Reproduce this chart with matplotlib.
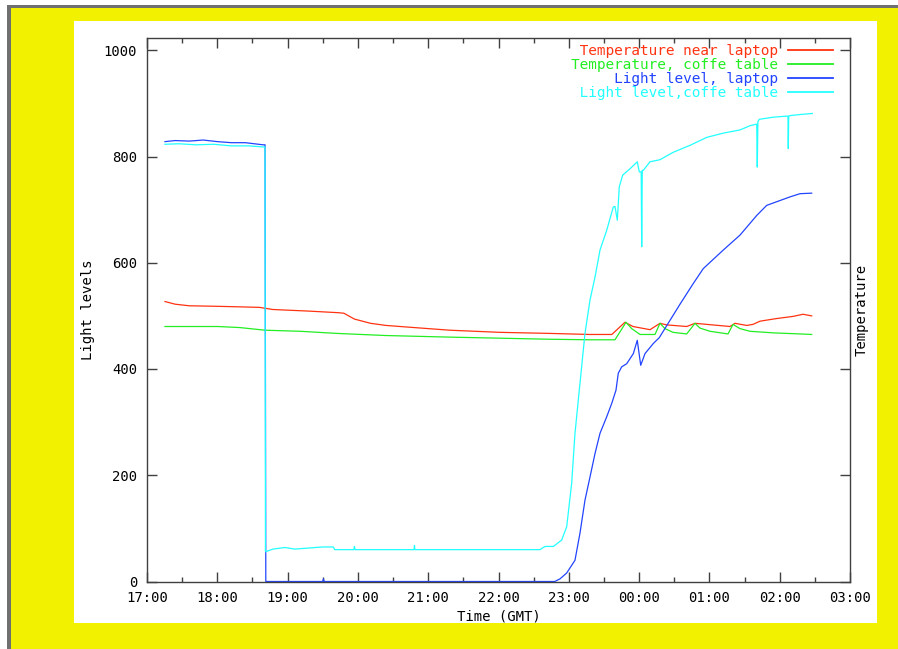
import matplotlib
matplotlib.use("Agg")
import matplotlib.pyplot as plt
from matplotlib.patches import Rectangle
from matplotlib.ticker import MultipleLocator

# ---------------- data (time in hours after 17:00 GMT) ----------------
x_tick_labels = ["17:00", "18:00", "19:00", "20:00", "21:00", "22:00",
                 "23:00", "00:00", "01:00", "02:00", "03:00"]
y_ticks = [0, 200, 400, 600, 800, 1000]

series_names = ["Temperature near laptop", "Temperature, coffe table",
                "Light level, laptop", "Light level,coffe table"]

t_temp_laptop = [0.256, 0.40, 0.60, 1.00, 1.32, 1.60, 1.79, 2.30, 2.72, 2.80,
                 2.95, 3.18, 3.40, 3.80, 4.31, 5.02, 5.73, 6.30, 6.612, 6.799,
                 6.913, 7.155, 7.297, 7.393, 7.677, 7.795, 7.962, 8.293, 8.364, 8.531,
                 8.620, 8.720, 8.957, 9.189, 9.331, 9.455]
v_temp_laptop = [527, 522, 519, 518, 517, 516, 512, 509, 506, 505,
                 494, 486, 482, 478, 473, 469, 467, 465, 465, 488,
                 480, 474, 486, 483, 480, 486, 484, 480, 486, 482,
                 484, 490, 495, 499, 503, 500]

t_temp_table = [0.256, 1.00, 1.32, 1.68, 2.18, 2.70, 3.40, 4.31, 5.02, 5.73,
                6.30, 6.657, 6.814, 6.895, 7.013, 7.226, 7.297, 7.368, 7.482, 7.677,
                7.795, 7.866, 8.009, 8.265, 8.336, 8.435, 8.578, 8.909, 9.289, 9.455]
v_temp_table = [480, 480, 478, 473, 471, 467, 463, 460, 458, 456,
                455, 455, 488, 476, 465, 465, 486, 476, 469, 466,
                486, 477, 471, 466, 484, 476, 471, 468, 466, 465]

t_light_laptop = [0.256, 0.40, 0.60, 0.80, 1.00, 1.20, 1.40, 1.65, 1.679, 1.69,
                  2.50, 2.51, 2.52, 5.80, 5.875, 5.970, 6.088, 6.159, 6.230, 6.302,
                  6.373, 6.444, 6.539, 6.610, 6.671, 6.704, 6.752, 6.824, 6.918, 6.974,
                  7.023, 7.084, 7.202, 7.287, 7.582, 7.771, 7.913, 8.198, 8.435, 8.673,
                  8.815, 9.147, 9.289, 9.455]
v_light_laptop = [828, 830, 829, 831, 828, 826, 826, 822, 822, 0,
                  0, 5, 0, 0, 5, 16, 40, 91, 153, 197,
                  241, 279, 310, 335, 360, 392, 404, 410, 429, 454,
                  407, 429, 448, 459, 522, 561, 589, 624, 652, 689,
                  708, 724, 730, 731]

t_light_table = [0.256, 0.45, 0.70, 0.95, 1.20, 1.45, 1.65, 1.679, 1.685, 1.792,
                 1.963, 2.10, 2.50, 2.65, 2.67, 2.944, 2.95, 2.96, 3.798, 3.805,
                 3.81, 5.59, 5.661, 5.780, 5.899, 5.970, 6.041, 6.088, 6.159, 6.230,
                 6.302, 6.373, 6.444, 6.539, 6.633, 6.657, 6.690, 6.718, 6.767, 6.871,
                 6.974, 7.003, 7.030, 7.037, 7.045, 7.060, 7.155, 7.297, 7.487, 7.724,
                 7.962, 8.198, 8.435, 8.578, 8.673, 8.681, 8.690, 8.710, 8.909, 9.100,
                 9.118, 9.122, 9.128, 9.147, 9.289, 9.464]
v_light_table = [823, 824, 822, 823, 820, 820, 818, 818, 56, 61,
                 64, 61, 65, 65, 60, 60, 66, 60, 60, 68,
                 60, 60, 66, 66, 78, 103, 185, 279, 373, 467,
                 530, 573, 624, 661, 705, 706, 680, 743, 765, 777,
                 790, 771, 771, 630, 774, 774, 790, 794, 808, 821,
                 836, 844, 850, 858, 861, 780, 866, 870, 874, 876,
                 876, 815, 876, 877, 879, 881]

colors = ["#ff3311", "#22ee22", "#2244ff", "#22ffff"]

# ---------------- figure ----------------
W, H = 898, 649
plt.rcParams["font.family"] = ["DejaVu Sans Mono", "DejaVu Sans"]
fig = plt.figure(figsize=(W / 100, H / 100), dpi=100)
fig.patch.set_facecolor("white")


def px_rect(x0, y0, x1, y1, color, z):
    fig.add_artist(Rectangle((x0 / W, 1 - y1 / H), (x1 - x0) / W, (y1 - y0) / H,
                             transform=fig.transFigure, facecolor=color,
                             edgecolor="none", zorder=z))


px_rect(7, 5, W, H, "#707070", -30)
px_rect(10.5, 8, W, H, "#f2f200", -20)
px_rect(74, 21, 877, 623, "white", -10)

ax = fig.add_axes([147 / W, 1 - 581.5 / H, 703 / W, 544 / H])
ax.set_facecolor("white")

series = [(t_temp_laptop, v_temp_laptop), (t_temp_table, v_temp_table),
          (t_light_laptop, v_light_laptop), (t_light_table, v_light_table)]
lines = []
for (t, v), c, name in zip(series, colors, series_names):
    ln, = ax.plot(t, v, color=c, lw=0.9, label=name.rjust(24))
    lines.append(ln)

ax.set_xlim(0, 10)
ax.set_ylim(0, 1024)
ax.set_xticks(range(len(x_tick_labels)))
ax.set_xticklabels(x_tick_labels)
ax.xaxis.set_minor_locator(MultipleLocator(0.5))
ax.set_yticks(y_ticks)
ax.set_yticklabels([str(v) for v in y_ticks])

for sp in ax.spines.values():
    sp.set_color("#404040")
    sp.set_linewidth(1.0)
ax.tick_params(which="both", direction="in", top=True, right=True,
               color="#404040", width=1.0, labelsize=10, labelcolor="black")
ax.tick_params(which="major", length=7)
ax.tick_params(which="minor", length=3.5)
ax.tick_params(axis="x", pad=7)
ax.tick_params(axis="y", pad=7)

ax.text(0.5, -(616 - 581.5) / 544, "Time (GMT)", transform=ax.transAxes,
        ha="center", va="center", fontsize=10)
ax.text((88 - 147) / 703, 0.5, "Light levels", transform=ax.transAxes,
        ha="center", va="center", rotation=90, fontsize=10)
ax.text((862 - 147) / 703, 0.5, "Temperature", transform=ax.transAxes,
        ha="center", va="center", rotation=90, fontsize=10)

leg = ax.legend(loc="upper right", bbox_to_anchor=((833 - 147) / 703, (581.5 - 44.5) / 544),
                frameon=False, markerfirst=False, fontsize=10.4, handlelength=3.1,
                handletextpad=0.7, labelspacing=-0.02, borderpad=0, borderaxespad=0)
for txt, c in zip(leg.get_texts(), colors):
    txt.set_color(c)
for lh in leg.get_lines():
    lh.set_linewidth(1.3)

fig.savefig("out.png", dpi=100)
